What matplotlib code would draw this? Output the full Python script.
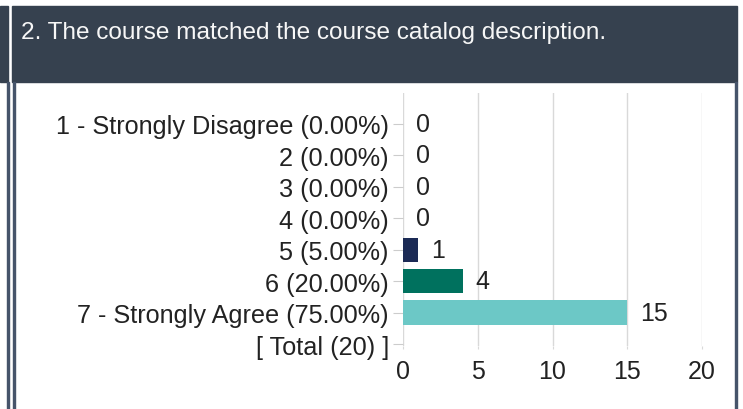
import matplotlib
matplotlib.use("Agg")
import matplotlib.pyplot as plt
from matplotlib.patches import Rectangle

plt.rcParams['font.family'] = ['Liberation Sans', 'DejaVu Sans']

title = "2. The course matched the course catalog description."
categories = ["1 - Strongly Disagree (0.00%)", "2 (0.00%)", "3 (0.00%)", "4 (0.00%)",
              "5 (5.00%)", "6 (20.00%)", "7 - Strongly Agree (75.00%)", "[ Total (20) ]"]
counts = [0, 0, 0, 0, 1, 4, 15]
bar_colors = ["#1b2a55", "#1b2a55", "#1b2a55", "#1b2a55", "#1b2a55", "#00715e", "#6cc8c6"]
x_ticks = [0, 5, 10, 15, 20]

W, H = 743, 410
fig = plt.figure(figsize=(W / 100, H / 100), dpi=100)
fig.patch.set_facecolor("white")

def fx(px):
    return px / W

def fy(py):
    return 1 - py / H

header_col = "#36414f"
line_col = "#46546a"
# header band
fig.patches.append(Rectangle((fx(12), fy(83)), fx(737) - fx(12), fy(7) - fy(83),
                             transform=fig.transFigure, color=header_col, zorder=0))
fig.patches.append(Rectangle((fx(0), fy(83)), fx(8), fy(7) - fy(83),
                             transform=fig.transFigure, color=header_col, zorder=0))
# border lines below header
for x0, x1 in [(7, 9), (13, 15), (735, 737)]:
    fig.patches.append(Rectangle((fx(x0), 0), fx(x1) - fx(x0), fy(83),
                                 transform=fig.transFigure, color=line_col, zorder=0))

fig.text(fx(21), fy(33.5), title, color="#f7f7f7", fontsize=17.6,
         ha="left", va="center")

ax = fig.add_axes([fx(403), fy(346.7), fx(702) - fx(403), fy(93.5) - fy(346.7)])
ypos = list(range(len(categories)))
ax.barh(ypos[:len(counts)], counts, height=0.78, color=bar_colors, zorder=2)
for y, v in zip(ypos, counts):
    ax.annotate(str(v), xy=(v, y), xytext=(13 * 0.72, 0), textcoords="offset points",
                ha="left", va="center", fontsize=18, color="#222222")

ax.set_xlim(0, 20)
ax.set_ylim(7.05, -1.0)
ax.set_xticks(x_ticks)
ax.set_yticks(ypos)
ax.set_yticklabels(categories)
ax.grid(axis="x", color="#d9d9d9", linewidth=1, zorder=0)
for s in ax.spines.values():
    s.set_visible(False)
ax.tick_params(axis="y", length=7.2, width=0.8, color="#cccccc", pad=2.9,
               labelsize=18.2, labelcolor="#222222")
ax.tick_params(axis="x", length=2.5, width=0.8, color="#d9d9d9", pad=7.2,
               labelsize=18, labelcolor="#222222")

fig.savefig("out.png", dpi=100, facecolor="white")
